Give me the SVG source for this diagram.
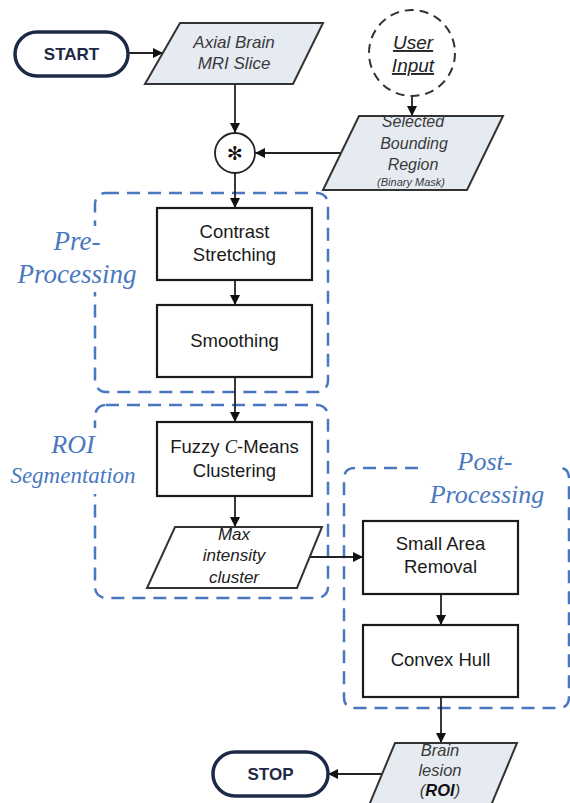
<svg xmlns="http://www.w3.org/2000/svg" width="570" height="803" viewBox="0 0 570 803">
<style>
.term{fill:#fff;stroke:#1c2a48;stroke-width:3.5}
.termtxt{font-family:"Liberation Sans",Arial,sans-serif;font-weight:bold;font-size:17px;fill:#1c2a48;text-anchor:middle}
.proc{fill:#fff;stroke:#1a1a1a;stroke-width:2.2}
.io{fill:#e6ebf2;stroke:#333;stroke-width:2}
.iow{fill:#fff;stroke:#333;stroke-width:2}
.txt{font-family:"Liberation Sans",Arial,sans-serif;font-size:18.5px;fill:#1a1a1a;text-anchor:middle}
.itxt{font-family:"Liberation Sans",Arial,sans-serif;font-style:italic;fill:#3a3a3a;text-anchor:middle}
.grp{fill:none;stroke:#4a78c0;stroke-width:2.5;stroke-dasharray:13 8}
.glabel{font-family:"Liberation Serif","Times New Roman",serif;font-style:italic;fill:#4a78c0;text-anchor:middle}
.mask{fill:#fff}
.conn{stroke:#222;stroke-width:1.8;fill:none;marker-end:url(#arr)}
</style>
<defs>
<marker id="arr" viewBox="0 0 10 10" refX="10" refY="5" markerWidth="10" markerHeight="10" markerUnits="userSpaceOnUse" orient="auto">
<path d="M0,0 L10,5 L0,10 z" fill="#111"/>
</marker>
</defs>
<rect width="570" height="803" fill="#fff"/>

<g id="groups">
<g id="grp-pre">
<rect class="grp" x="95" y="193" width="233" height="199" rx="11"/>
<rect class="mask" x="14" y="226" width="128" height="66"/>
<text class="glabel" x="77" y="250" font-size="27">Pre-</text>
<text class="glabel" x="77" y="283" font-size="27">Processing</text>
</g>
<g id="grp-roi">
<rect class="grp" x="95" y="405" width="233" height="193" rx="11"/>
<rect class="mask" x="6" y="428" width="136" height="66"/>
<text class="glabel" x="73" y="453" font-size="26">ROI</text>
<text class="glabel" x="73" y="483" font-size="23">Segmentation</text>
</g>
<g id="grp-post">
<path class="grp" d="M418,468 L355,468 Q344,468 344,479 L344,697 Q344,708 355,708 L558,708 Q569,708 569,697 L569,479 Q569,468 560,468"/>
<text class="glabel" x="485" y="470" font-size="26">Post-</text>
<text class="glabel" x="487" y="503" font-size="26">Processing</text>
</g>
</g>

<g id="connectors">
<line class="conn" x1="128" y1="53" x2="163" y2="53"/>
<line class="conn" x1="235" y1="84" x2="235" y2="133"/>
<line class="conn" x1="412" y1="96" x2="412" y2="116"/>
<line class="conn" x1="341" y1="153" x2="255" y2="153"/>
<line class="conn" x1="235" y1="173" x2="235" y2="208"/>
<line class="conn" x1="235" y1="280" x2="235" y2="305"/>
<line class="conn" x1="235" y1="377" x2="235" y2="422"/>
<line class="conn" x1="235" y1="496" x2="235" y2="527"/>
<line class="conn" x1="310" y1="557" x2="363" y2="557"/>
<line class="conn" x1="441" y1="594" x2="441" y2="625"/>
<line class="conn" x1="441" y1="697" x2="441" y2="743"/>
<line class="conn" x1="382" y1="774" x2="328" y2="774"/>
</g>

<g id="start">
<rect class="term" x="15" y="32" width="113" height="44" rx="22"/>
<text class="termtxt" x="71.5" y="60">START</text>
</g>

<g id="axial">
<polygon class="io" points="180,23 323,23 293,84 145,84"/>
<text class="itxt" x="234" y="48" style="font-size:17px">Axial Brain</text>
<text class="itxt" x="234" y="69" style="font-size:17px">MRI Slice</text>
</g>

<g id="user-input">
<circle cx="412" cy="53" r="43" fill="#fff" stroke="#333" stroke-width="2" stroke-dasharray="9 6"/>
<text class="itxt" x="413" y="49" style="font-size:19px;fill:#222;text-decoration:underline">User</text>
<text class="itxt" x="413" y="72" style="font-size:19px;fill:#222;text-decoration:underline">Input</text>
</g>

<g id="bounding">
<polygon class="io" points="359,116 503,116 467,190 323,190"/>
<text class="itxt" x="413" y="127" style="font-size:16px">Selected</text>
<text class="itxt" x="414" y="149" style="font-size:16px">Bounding</text>
<text class="itxt" x="413" y="170" style="font-size:16px">Region</text>
<text class="itxt" x="411" y="186" style="font-size:11px">(Binary Mask)</text>
</g>

<g id="combine">
<circle cx="235" cy="153" r="20" fill="#fff" stroke="#222" stroke-width="1.8"/>
<text x="235" y="160" font-family="DejaVu Sans,sans-serif" font-size="19" font-weight="bold" fill="#111" text-anchor="middle">✻</text>
</g>

<g id="contrast">
<rect class="proc" x="157" y="208" width="155" height="72"/>
<text class="txt" x="234.5" y="238">Contrast</text>
<text class="txt" x="234.5" y="261">Stretching</text>
</g>

<g id="smoothing">
<rect class="proc" x="157" y="305" width="155" height="72"/>
<text class="txt" x="234.5" y="347">Smoothing</text>
</g>

<g id="fcm">
<rect class="proc" x="157" y="422" width="155" height="74"/>
<text class="txt" x="234.5" y="453">Fuzzy <tspan style="font-family:'Liberation Serif',serif;font-style:italic">C</tspan>-Means</text>
<text class="txt" x="234.5" y="477">Clustering</text>
</g>

<g id="maxint">
<polygon class="iow" points="175,527 322,527 297,588 147,588"/>
<text class="itxt" x="234" y="540" style="font-size:17px;fill:#222">Max</text>
<text class="itxt" x="234" y="561" style="font-size:17px;fill:#222">intensity</text>
<text class="itxt" x="234" y="583" style="font-size:17px;fill:#222">cluster</text>
</g>

<g id="small-area">
<rect class="proc" x="363" y="521" width="155" height="73"/>
<text class="txt" x="440.5" y="550">Small Area</text>
<text class="txt" x="440.5" y="573">Removal</text>
</g>

<g id="convex">
<rect class="proc" x="363" y="625" width="155" height="72"/>
<text class="txt" x="440.5" y="666">Convex Hull</text>
</g>

<g id="lesion">
<polygon class="io" points="395,743 517,743 487,815 365,815"/>
<text class="itxt" x="440" y="756" style="font-size:16.5px">Brain</text>
<text class="itxt" x="440" y="776" style="font-size:16.5px">lesion</text>
<text class="itxt" x="440" y="796" style="font-size:16.5px">(<tspan style="font-weight:bold;fill:#111">ROI</tspan>)</text>
</g>

<g id="stop">
<rect class="term" x="213" y="752" width="115" height="44" rx="22"/>
<text class="termtxt" x="270.5" y="780">STOP</text>
</g>
</svg>
